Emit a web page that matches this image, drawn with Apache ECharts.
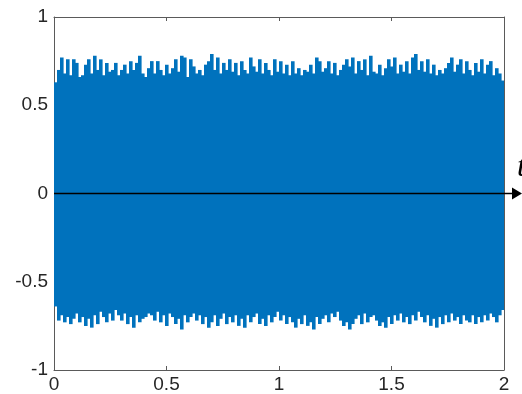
<!DOCTYPE html>
<html>
<head>
<meta charset="utf-8">
<script src="https://cdn.jsdelivr.net/npm/echarts@6/dist/echarts.min.js"></script>
<style>html,body{margin:0;padding:0;background:#fff;}#c{width:522px;height:394px;}</style>
</head>
<body>
<div id="c"></div>
<script>
// Envelope of the dense signal, read column by column (150 columns over t = 0..2)
const upperPeaks = [
 0.63,0.70,0.77,0.68,0.76,0.67,0.76,0.74,0.66,0.67,
 0.73,0.76,0.68,0.78,0.70,0.76,0.67,0.74,0.69,0.70,
 0.74,0.67,0.70,0.73,0.68,0.75,0.70,0.74,0.78,0.68,
 0.66,0.71,0.75,0.68,0.75,0.70,0.67,0.73,0.68,0.71,
 0.76,0.69,0.78,0.77,0.66,0.76,0.72,0.68,0.70,0.67,
 0.73,0.75,0.79,0.70,0.77,0.68,0.74,0.70,0.76,0.69,
 0.74,0.67,0.75,0.70,0.68,0.77,0.72,0.69,0.76,0.68,
 0.74,0.70,0.67,0.76,0.69,0.75,0.68,0.73,0.67,0.75,
 0.68,0.71,0.67,0.70,0.69,0.73,0.68,0.77,0.75,0.69,
 0.71,0.75,0.68,0.74,0.67,0.70,0.73,0.76,0.72,0.77,
 0.68,0.75,0.70,0.76,0.67,0.78,0.69,0.68,0.73,0.67,
 0.71,0.76,0.72,0.77,0.68,0.73,0.69,0.75,0.68,0.77,
 0.79,0.70,0.75,0.69,0.76,0.68,0.73,0.67,0.70,0.68,
 0.71,0.74,0.77,0.69,0.73,0.76,0.68,0.75,0.70,0.67,
 0.74,0.69,0.76,0.68,0.73,0.75,0.67,0.71,0.68,0.64
];
const lowerPeaks = [
 -0.64,-0.72,-0.69,-0.73,-0.70,-0.74,-0.71,-0.68,-0.73,-0.70,
 -0.75,-0.71,-0.76,-0.69,-0.74,-0.67,-0.70,-0.73,-0.68,-0.72,
 -0.66,-0.69,-0.72,-0.68,-0.74,-0.70,-0.76,-0.69,-0.73,-0.71,
 -0.70,-0.68,-0.69,-0.72,-0.67,-0.73,-0.69,-0.75,-0.68,-0.70,
 -0.74,-0.71,-0.77,-0.69,-0.73,-0.70,-0.68,-0.72,-0.69,-0.74,
 -0.70,-0.76,-0.73,-0.69,-0.75,-0.71,-0.68,-0.74,-0.70,-0.73,
 -0.69,-0.75,-0.71,-0.76,-0.69,-0.73,-0.70,-0.68,-0.74,-0.71,
 -0.75,-0.69,-0.73,-0.70,-0.67,-0.72,-0.69,-0.74,-0.70,-0.73,
 -0.76,-0.71,-0.74,-0.69,-0.75,-0.73,-0.77,-0.70,-0.74,-0.71,
 -0.69,-0.73,-0.68,-0.70,-0.67,-0.72,-0.75,-0.73,-0.77,-0.74,
 -0.71,-0.69,-0.74,-0.68,-0.73,-0.70,-0.69,-0.72,-0.75,-0.73,
 -0.76,-0.70,-0.74,-0.69,-0.72,-0.68,-0.73,-0.70,-0.74,-0.69,
 -0.72,-0.67,-0.70,-0.73,-0.69,-0.75,-0.71,-0.76,-0.70,-0.74,
 -0.69,-0.73,-0.68,-0.72,-0.70,-0.74,-0.69,-0.72,-0.73,-0.69,
 -0.74,-0.70,-0.73,-0.69,-0.72,-0.68,-0.70,-0.73,-0.69,-0.66
];
const tStart = 0, tEnd = 2;
const xTicks = [0, 0.5, 1, 1.5, 2];
const yTicks = [-1, -0.5, 0, 0.5, 1];
const axisLabel = 't';

const n = upperPeaks.length;
const step = (tEnd - tStart) / n;
const data = upperPeaks.map((u, i) => [tStart + i * step, lowerPeaks[i], u]);

const chart = echarts.init(document.getElementById('c'), null, {renderer: 'canvas'});
const lab = {fontFamily: 'Liberation Sans, Arial, sans-serif', fontSize: 19, color: '#262626'};
const axCol = '#5a5a5a';
function fmt(v){ return String(Math.round(v*10)/10); }
chart.setOption({
  animation: false,
  grid: {left: 54, right: 18, top: 17, bottom: 24, containLabel: false},
  xAxis: [
    {type: 'value', min: 0, max: 2, interval: 0.5, position: 'bottom',
     axisLine: {onZero: false, lineStyle: {color: axCol, width: 1}},
     axisTick: {inside: true, length: 4, lineStyle: {color: axCol}},
     axisLabel: Object.assign({margin: 5, formatter: fmt}, lab),
     splitLine: {show: false}},
    {type: 'value', min: 0, max: 2, interval: 0.5, position: 'top',
     axisLine: {onZero: false, lineStyle: {color: axCol, width: 1}},
     axisTick: {inside: true, length: 4, lineStyle: {color: axCol}},
     axisLabel: {show: false}, splitLine: {show: false}}
  ],
  yAxis: [
    {type: 'value', min: -1, max: 1, interval: 0.5, position: 'left',
     axisLine: {show: true, onZero: false, lineStyle: {color: axCol, width: 1}},
     axisTick: {show: true, inside: true, length: 4, lineStyle: {color: axCol}},
     axisLabel: Object.assign({margin: 6, formatter: fmt}, lab),
     splitLine: {show: false}},
    {type: 'value', min: -1, max: 1, interval: 0.5, position: 'right',
     axisLine: {show: true, onZero: false, lineStyle: {color: axCol, width: 1}},
     axisTick: {show: true, inside: true, length: 4, lineStyle: {color: axCol}},
     axisLabel: {show: false}, splitLine: {show: false}}
  ],
  series: [{
    type: 'custom',
    xAxisIndex: 0, yAxisIndex: 0,
    data: data,
    clip: true,
    renderItem: function (params, api) {
      const x0 = api.value(0), lo = api.value(1), hi = api.value(2);
      const pTop = api.coord([x0, hi]);
      const pBot = api.coord([x0 + step, lo]);
      return {
        type: 'rect',
        shape: {x: pTop[0], y: pTop[1], width: pBot[0] - pTop[0] + 0.6, height: pBot[1] - pTop[1]},
        style: {fill: '#0072BD'}
      };
    }
  }]
});

const p0 = chart.convertToPixel({xAxisIndex: 0, yAxisIndex: 0}, [0, 0]);
const p1 = chart.convertToPixel({xAxisIndex: 0, yAxisIndex: 0}, [2, 0]);
chart.setOption({
  graphic: [
    {type: 'line', shape: {x1: p0[0], y1: p0[1], x2: p1[0] + 9, y2: p1[1]}, style: {stroke: '#000', lineWidth: 1.3}, z: 100},
    {type: 'polygon', shape: {points: [[p1[0] + 8, p1[1] - 6], [p1[0] + 18, p1[1]], [p1[0] + 8, p1[1] + 6]]}, style: {fill: '#000'}, z: 100},
    {type: 'text', x: p1[0] + 13, y: p1[1] - 42, style: {text: axisLabel, font: 'italic 32px "Liberation Serif", "DejaVu Serif", serif', fill: '#000'}, z: 100}
  ]
});
</script>
</body>
</html>
